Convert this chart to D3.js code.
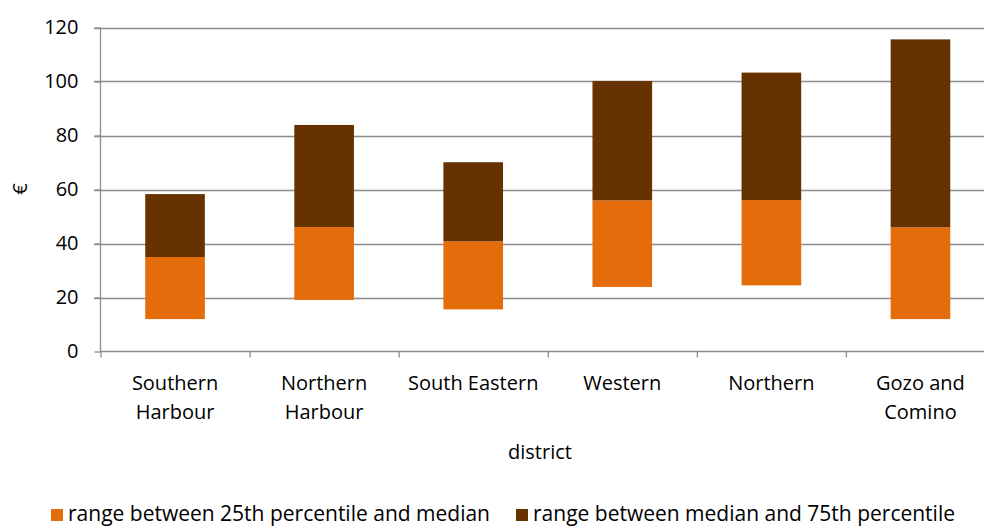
<!DOCTYPE html>
<html>
<head>
<meta charset="utf-8">
<script src="https://cdn.jsdelivr.net/npm/d3@7"></script>
<style>
  html, body { margin: 0; padding: 0; background: #fff; }
  svg { display: block; }
  text { font-family: "Open Sans", sans-serif; fill: #000; }
</style>
</head>
<body>
<script>
// ---- data ----
const districts = ["Southern Harbour", "Northern Harbour", "South Eastern", "Western", "Northern", "Gozo and Comino"];
const p25    = [12.0, 19.1, 15.6, 23.9, 24.5, 12.0];
const median = [35.0, 46.1, 40.8, 56.0, 56.1, 46.0];
const p75    = [58.3, 83.9, 70.1, 100.2, 103.3, 115.6];
const yTicks = [0, 20, 40, 60, 80, 100, 120];
const seriesNames = ["range between 25th percentile and median", "range between median and 75th percentile"];
const seriesColors = ["#E46C0A", "#663300"];

const W = 984, H = 528;
const svg = d3.select("body").append("svg").attr("width", W).attr("height", H);

const x = d3.scaleBand().domain(districts).range([100.5, 995]).paddingInner(0.6).paddingOuter(0.3);
const xOuter = d3.scaleBand().domain(districts).range([100.5, 995]);
const y = d3.scaleLinear().domain([0, 120]).range([351.5, 27.5]);

// gridlines
svg.append("g").selectAll("line").data(yTicks.filter(d => d > 0)).join("line")
  .attr("x1", 94).attr("x2", W)
  .attr("y1", d => Math.round(y(d)) + 0.5).attr("y2", d => Math.round(y(d)) + 0.5)
  .attr("stroke", "#8c8c8c").attr("stroke-width", 1.3);

// bars
const rows = districts.map((d, i) => ({ d, p25: p25[i], med: median[i], p75: p75[i] }));
const g = svg.append("g");
g.selectAll("rect.low").data(rows).join("rect").attr("class", "low")
  .attr("x", r => x(r.d)).attr("width", x.bandwidth())
  .attr("y", r => y(r.med)).attr("height", r => y(r.p25) - y(r.med))
  .attr("fill", seriesColors[0]);
g.selectAll("rect.high").data(rows).join("rect").attr("class", "high")
  .attr("x", r => x(r.d)).attr("width", x.bandwidth())
  .attr("y", r => y(r.p75)).attr("height", r => y(r.med) - y(r.p75))
  .attr("fill", seriesColors[1]);

// y axis
const yAxis = d3.axisLeft(y).tickValues(yTicks).tickSize(6).tickPadding(16);
const ya = svg.append("g").attr("transform", "translate(100.5,0)").call(yAxis);
ya.select(".domain").attr("stroke", "#8c8c8c").attr("stroke-width", 1.3).attr("d", `M0,${y(0)}V${y(120)}`);
ya.selectAll(".tick line").attr("stroke", "#8c8c8c").attr("stroke-width", 1.3);
ya.selectAll(".tick text").attr("font-size", 20).attr("font-family", "Open Sans, sans-serif").attr("fill", "#000");

// x axis
const xAxis = d3.axisBottom(xOuter).tickSize(0).tickFormat("");
const xa = svg.append("g").attr("transform", `translate(0,${y(0)})`).call(xAxis);
xa.select(".domain").attr("stroke", "#8c8c8c").attr("stroke-width", 1.3).attr("d", `M100.5,0H${W}`);
// boundary ticks between categories
xa.selectAll("line.bt").data(districts).join("line").attr("class", "bt")
  .attr("x1", d => xOuter(d) + 0.5).attr("x2", d => xOuter(d) + 0.5)
  .attr("y1", 0).attr("y2", 6).attr("stroke", "#8c8c8c").attr("stroke-width", 1.3);

// x labels (wrapped)
const labelLines = {
  "Southern Harbour": ["Southern", "Harbour"],
  "Northern Harbour": ["Northern", "Harbour"],
  "South Eastern": ["South Eastern"],
  "Western": ["Western"],
  "Northern": ["Northern"],
  "Gozo and Comino": ["Gozo and", "Comino"]
};
const xl = svg.append("g");
districts.forEach(d => {
  const t = xl.append("text").attr("text-anchor", "middle").attr("font-size", 20)
    .attr("x", xOuter(d) + xOuter.bandwidth() / 2).attr("y", 390);
  labelLines[d].forEach((ln, i) => {
    t.append("tspan").attr("x", xOuter(d) + xOuter.bandwidth() / 2).attr("dy", i === 0 ? 0 : 29).text(ln);
  });
});

// axis titles
svg.append("text").attr("x", 540).attr("y", 459).attr("text-anchor", "middle").attr("font-size", 20).text("district");
svg.append("text").attr("transform", "translate(27,189) rotate(-90)").attr("text-anchor", "middle").attr("font-size", 20).text("€");

// legend
const legend = svg.append("g");
const legX = [51, 516];
seriesNames.forEach((n, i) => {
  legend.append("rect").attr("x", legX[i]).attr("y", 509).attr("width", 12).attr("height", 12).attr("fill", seriesColors[i]);
  legend.append("text").attr("x", legX[i] + 17).attr("y", 521).attr("font-size", 21).text(n);
});
</script>
</body>
</html>
